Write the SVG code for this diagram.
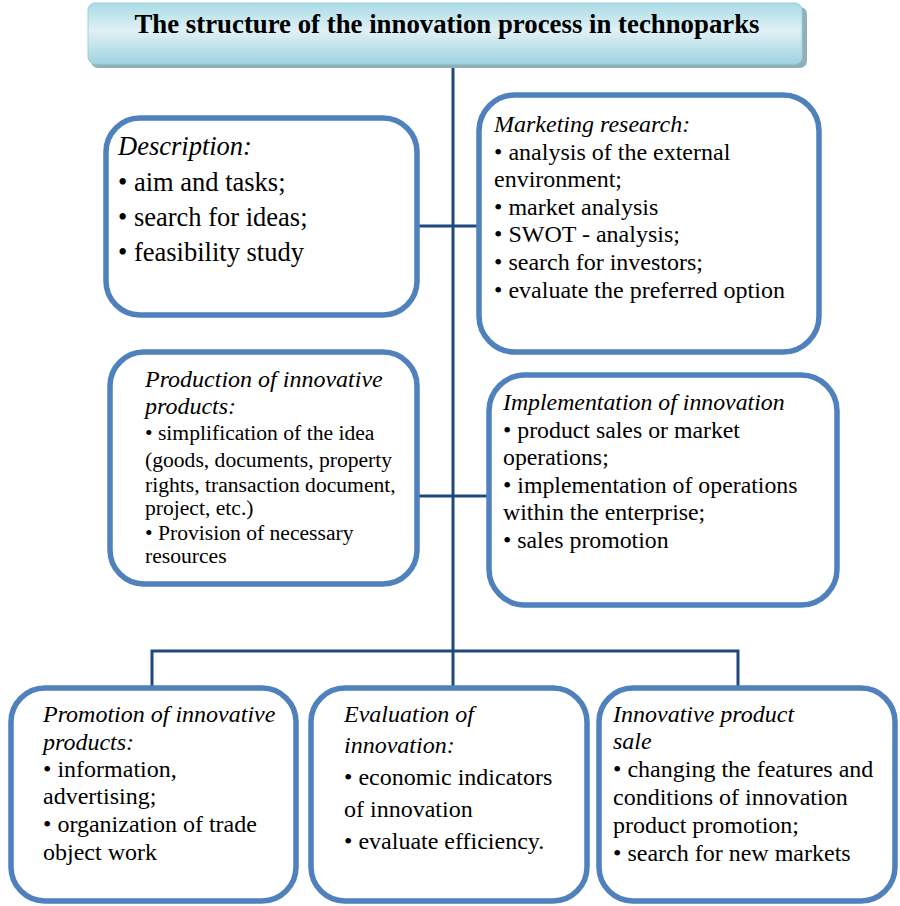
<svg xmlns="http://www.w3.org/2000/svg" width="900" height="906" viewBox="0 0 900 906">
  <defs>
    <linearGradient id="titleFill" x1="0" y1="0" x2="0" y2="1">
      <stop offset="0" stop-color="#a9dbe6"/>
      <stop offset="0.45" stop-color="#e0f1f6"/>
      <stop offset="1" stop-color="#9fd3e0"/>
    </linearGradient>
  </defs>
  <style>
    .box { fill: #ffffff; stroke: #4f81bd; stroke-width: 5.5; }
    .link { fill: none; stroke: #1f497d; stroke-width: 3; }
    text { font-family: "Liberation Serif", "Times New Roman", serif; fill: #000000; }
    .head { font-style: italic; }
  </style>

  <rect width="900" height="906" fill="#ffffff"/>

  <!-- connectors -->
  <g id="connectors">
    <path class="link" d="M453,66 V651"/>
    <path class="link" d="M418,226 H477"/>
    <path class="link" d="M418,496 H487"/>
    <path class="link" d="M152,686 V651 H738 V686"/>
    <path class="link" d="M453,651 V686"/>
  </g>

  <!-- title -->
  <g id="title">
    <rect x="91" y="7" width="716" height="61" rx="7" fill="#8fb0b8"/>
    <rect x="88" y="3" width="714" height="61" rx="7" fill="url(#titleFill)" stroke="#9ccfdc" stroke-width="1"/>
    <text x="447" y="33" text-anchor="middle" font-size="26.8" font-weight="bold">The structure of the innovation process in technoparks</text>
  </g>

  <!-- stage boxes -->
  <g id="description">
    <rect class="box" x="106" y="118" width="311" height="197" rx="34"/>
    <text font-size="26.5">
      <tspan class="head" x="118" y="155">Description:</tspan>
      <tspan x="118" y="191">• aim and tasks;</tspan>
      <tspan x="118" y="226">• search for ideas;</tspan>
      <tspan x="118" y="261">• feasibility study</tspan>
    </text>
  </g>

  <g id="marketing">
    <rect class="box" x="479" y="95" width="340" height="257" rx="36"/>
    <text font-size="24">
      <tspan class="head" x="494" y="132">Marketing research:</tspan>
      <tspan x="494" y="160">• analysis of the external</tspan>
      <tspan x="494" y="187">environment;</tspan>
      <tspan x="494" y="215">• market analysis</tspan>
      <tspan x="494" y="242">• SWOT - analysis;</tspan>
      <tspan x="494" y="270">• search for investors;</tspan>
      <tspan x="494" y="298">• evaluate the preferred option</tspan>
    </text>
  </g>

  <g id="production">
    <rect class="box" x="110" y="352" width="307" height="232" rx="34"/>
    <text font-size="24">
      <tspan class="head" x="145" y="387">Production of innovative</tspan>
      <tspan class="head" x="145" y="414">products:</tspan>
    </text>
    <text font-size="21.6">
      <tspan x="145" y="440">• simplification of the idea</tspan>
      <tspan x="145" y="467">(goods, documents, property</tspan>
      <tspan x="145" y="492">rights, transaction document,</tspan>
      <tspan x="145" y="515">project, etc.)</tspan>
      <tspan x="145" y="540">• Provision of necessary</tspan>
      <tspan x="145" y="563">resources</tspan>
    </text>
  </g>

  <g id="implementation">
    <rect class="box" x="489" y="375" width="348" height="230" rx="36"/>
    <text font-size="23.8">
      <tspan class="head" x="503" y="410">Implementation of innovation</tspan>
      <tspan x="503" y="438">• product sales or market</tspan>
      <tspan x="503" y="465">operations;</tspan>
      <tspan x="503" y="493">• implementation of operations</tspan>
      <tspan x="503" y="520">within the enterprise;</tspan>
      <tspan x="503" y="548">• sales promotion</tspan>
    </text>
  </g>

  <g id="promotion">
    <rect class="box" x="11" y="688" width="285" height="213" rx="34"/>
    <text font-size="24">
      <tspan class="head" x="43" y="722">Promotion of innovative</tspan>
      <tspan class="head" x="43" y="750">products:</tspan>
      <tspan x="43" y="777">• information,</tspan>
      <tspan x="43" y="804">advertising;</tspan>
      <tspan x="43" y="832">• organization of trade</tspan>
      <tspan x="43" y="860">object work</tspan>
    </text>
  </g>

  <g id="evaluation">
    <rect class="box" x="311" y="688" width="276" height="213" rx="34"/>
    <text font-size="24">
      <tspan class="head" x="344" y="722">Evaluation of</tspan>
      <tspan class="head" x="344" y="753">innovation:</tspan>
      <tspan x="344" y="785">• economic indicators</tspan>
      <tspan x="344" y="817">of innovation</tspan>
      <tspan x="344" y="849">• evaluate efficiency.</tspan>
    </text>
  </g>

  <g id="sale">
    <rect class="box" x="599" y="688" width="296" height="213" rx="34"/>
    <text font-size="24">
      <tspan class="head" x="613" y="722">Innovative product</tspan>
      <tspan class="head" x="613" y="749">sale</tspan>
      <tspan x="613" y="777">• changing the features and</tspan>
      <tspan x="613" y="805">conditions of innovation</tspan>
      <tspan x="613" y="833">product promotion;</tspan>
      <tspan x="613" y="861">• search for new markets</tspan>
    </text>
  </g>
</svg>
